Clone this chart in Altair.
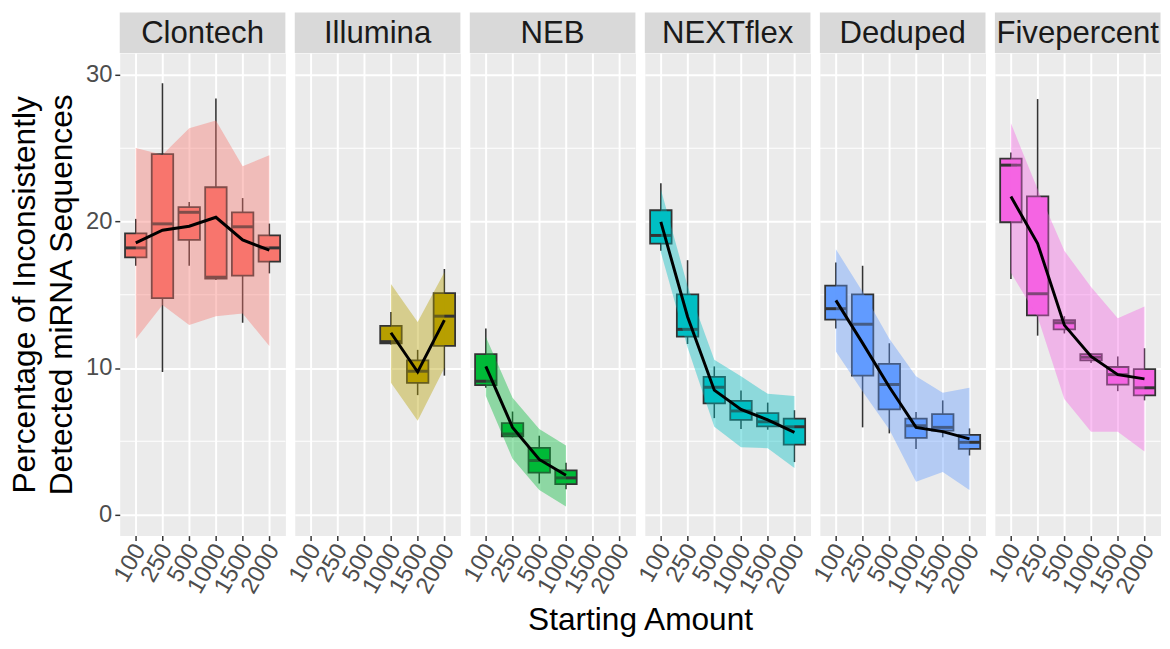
import altair as alt
import pandas as pd

libraries = ["Clontech", "Illumina", "NEB", "NEXTflex", "Deduped", "Fivepercent"]
amounts = ["100", "250", "500", "1000", "1500", "2000"]
colors = ["#F8766D", "#B79F00", "#00BA38", "#00BFC4", "#619CFF", "#F564E3"]
major_breaks = [0, 10, 20, 30]
minor_breaks = [5, 15, 25]

# box-plot statistics per library, in the order of `amounts` (None = no samples)
whisker_low = {
    "Clontech":    [16.98, 9.73, 16.98, 16.0, 13.09, 16.46],
    "Illumina":    [None, None, None, 11.6, 8.15, 9.48],
    "NEB":         [8.65, 5.27, 2.12, 1.73, None, None],
    "NEXTflex":    [18.0, 11.64, 6.58, 5.83, 5.79, 3.58],
    "Deduped":     [12.7, 5.95, 5.54, 4.48, 5.27, 4.03],
    "Fivepercent": [16.08, 12.21, 12.36, 10.34, 8.42, 7.79],
}
q1 = {
    "Clontech":    [17.55, 14.77, 18.74, 16.1, 16.31, 17.27],
    "Illumina":    [None, None, None, 11.69, 8.99, 11.51],
    "NEB":         [8.83, 5.34, 2.86, 2.07, None, None],
    "NEXTflex":    [18.49, 12.14, 7.59, 6.46, 6.01, 4.77],
    "Deduped":     [13.31, 9.48, 7.18, 5.23, 5.72, 4.48],
    "Fivepercent": [19.95, 13.6, 12.64, 10.52, 8.87, 8.14],
}
median = {
    "Clontech":    [18.2, 19.84, 20.63, 16.2, 19.64, 18.2],
    "Illumina":    [None, None, None, 11.8, 9.78, 13.54],
    "NEB":         [9.1, 5.5, 3.69, 2.5, None, None],
    "NEXTflex":    [19.05, 12.64, 8.69, 7.07, 6.33, 5.99],
    "Deduped":     [14.05, 12.99, 8.87, 6.06, 5.95, 4.93],
    "Fivepercent": [23.85, 15.07, 13.09, 10.74, 9.55, 8.65],
}
q3 = {
    "Clontech":    [19.19, 24.6, 20.99, 22.34, 20.63, 19.05],
    "Illumina":    [None, None, None, 12.88, 10.52, 15.11],
    "NEB":         [10.95, 6.24, 4.55, 3.02, None, None],
    "NEXTflex":    [20.77, 15.02, 9.39, 7.75, 6.92, 6.55],
    "Deduped":     [15.63, 15.02, 10.29, 6.55, 6.85, 5.43],
    "Fivepercent": [24.3, 21.71, 13.27, 10.95, 10.07, 9.93],
}
whisker_high = {
    "Clontech":    [20.18, 29.44, 21.33, 28.4, 21.6, 19.86],
    "Illumina":    [None, None, None, 13.83, 11.24, 16.76],
    "NEB":         [12.7, 7.03, 5.38, 3.54, None, None],
    "NEXTflex":    [22.61, 17.36, 10.11, 8.47, 7.64, 7.12],
    "Deduped":     [17.2, 16.98, 11.69, 7.0, 7.79, 5.88],
    "Fivepercent": [24.71, 28.36, 13.54, 11.01, 10.79, 11.35],
}
mean_values = {
    "Clontech":    [18.54, 19.41, 19.68, 20.29, 18.74, 18.04],
    "Illumina":    [None, None, None, 12.41, 9.73, 13.27],
    "NEB":         [10.11, 5.95, 3.76, 2.68, None, None],
    "NEXTflex":    [19.97, 13.5, 8.49, 7.18, 6.46, 5.61],
    "Deduped":     [14.62, 11.7, 8.7, 5.95, 5.66, 5.16],
    "Fivepercent": [21.71, 18.5, 12.93, 10.79, 9.55, 9.26],
}
ribbon_low = {
    "Clontech":    [11.98, 14.3, 12.93, 13.54, 13.72, 11.51],
    "Illumina":    [None, None, None, 8.99, 6.4, 10.0],
    "NEB":         [8.09, 3.81, 1.67, 0.54, None, None],
    "NEXTflex":    [17.9, 11.4, 5.99, 4.59, 4.53, 3.18],
    "Deduped":     [11.13, 8.4, 5.8, 2.23, 2.9, 1.67],
    "Fivepercent": [16.5, 13.5, 7.88, 5.65, 5.65, 4.3],
}
ribbon_high = {
    "Clontech":    [25.02, 24.55, 26.37, 26.89, 23.78, 24.53],
    "Illumina":    [None, None, None, 15.74, 13.14, 16.53],
    "NEB":         [12.14, 7.97, 5.83, 4.71, None, None],
    "NEXTflex":    [22.2, 15.6, 10.56, 9.43, 8.24, 8.09],
    "Deduped":     [18.11, 15.2, 12.0, 9.43, 8.31, 8.65],
    "Fivepercent": [26.7, 22.2, 18.0, 15.53, 13.4, 14.2],
}

W = 167.5
H = 488
GAP = 9
BOX = 21.7
FONT = "Liberation Sans"

yscale = alt.Scale(domain=[-1.44, 31.5], nice=False, zero=False)
xscale = alt.Scale(type="point", domain=amounts, padding=0.6)


def y_axis(first):
    if first:
        return alt.Axis(values=major_breaks, grid=True, gridColor="white", gridWidth=2,
                        domain=False, ticks=True, tickColor="#333333", tickSize=5, tickWidth=1.5,
                        labelFontSize=24, labelColor="#4D4D4D", labelPadding=3,
                        title=["Percentage of Inconsistently", "Detected miRNA Sequences"],
                        titleFontSize=32, titleFontWeight="normal", titleColor="black",
                        titleLineHeight=37, titlePadding=7, minExtent=0)
    return alt.Axis(values=major_breaks, grid=True, gridColor="white", gridWidth=2,
                    domain=False, ticks=False, labels=False, title=None,
                    minExtent=0, maxExtent=0, offset=0)


x_axis = alt.Axis(title=None, grid=True, gridColor="white", gridWidth=2, domain=False,
                  ticks=True, tickColor="#333333", tickSize=5, tickWidth=1.5,
                  labelFontSize=24, labelColor="#4D4D4D", labelAngle=300,
                  labelAlign="right", labelBaseline="middle", labelPadding=5,
                  labelOffset=4, minExtent=0)

panels = []
for i, lib in enumerate(libraries):
    rows = []
    for j, a in enumerate(amounts):
        if median[lib][j] is None:
            continue
        rows.append(dict(amount=a, lo=whisker_low[lib][j], q1=q1[lib][j], med=median[lib][j],
                         q3=q3[lib][j], hi=whisker_high[lib][j], mean=mean_values[lib][j],
                         rlo=ribbon_low[lib][j], rhi=ribbon_high[lib][j]))
    df = pd.DataFrame(rows)
    col = colors[i]
    xenc = alt.X("amount:N", sort=amounts, scale=xscale, axis=x_axis)
    base = alt.Chart(df)

    minor = alt.Chart(pd.DataFrame({"v": minor_breaks})).mark_rule(
        color="white", strokeWidth=1.1).encode(
        y=alt.Y("v:Q", scale=yscale, axis=y_axis(i == 0)))
    whisk = base.mark_rule(color="#333333", strokeWidth=1.6).encode(
        x=xenc, y=alt.Y("lo:Q", scale=yscale), y2="hi:Q")
    box = base.mark_bar(size=BOX, fill=col, stroke="#333333", strokeWidth=1.8).encode(
        x=xenc, y=alt.Y("q1:Q", scale=yscale), y2="q3:Q")
    med = base.mark_tick(size=BOX, thickness=3, color="#333333", opacity=1).encode(
        x=xenc, y=alt.Y("med:Q", scale=yscale))
    rib = base.mark_area(color=col, opacity=0.4).encode(
        x=xenc, y=alt.Y("rlo:Q", scale=yscale), y2="rhi:Q")
    line = base.mark_line(color="black", strokeWidth=3).encode(
        x=xenc, y=alt.Y("mean:Q", scale=yscale))

    strip_df = pd.DataFrame({"lib": [lib]})
    strip_rect = alt.Chart(strip_df).mark_rect(fill="#D9D9D9").encode(
        x=alt.value(0), x2=alt.value(W), y=alt.value(-41), y2=alt.value(0))
    strip_text = alt.Chart(strip_df).mark_text(
        font=FONT, fontSize=31.5, color="#1A1A1A", baseline="middle", align="center").encode(
        x=alt.value(W / 2), y=alt.value(-19), text="lib:N")

    panels.append(alt.layer(minor, whisk, box, med, rib, line, strip_rect, strip_text)
                  .properties(width=W, height=H))

chart = alt.hconcat(*panels, spacing=GAP, bounds="flush").properties(
    padding=0,
    title=alt.TitleParams("Starting Amount", orient="bottom", anchor="middle",
                          fontSize=32, fontWeight="normal", color="black",
                          font=FONT, dx=56, offset=8),
).configure(font=FONT).configure_view(fill="#EBEBEB", stroke="transparent")

chart.save("out.html", embed_options={"renderer": "svg", "actions": False})
